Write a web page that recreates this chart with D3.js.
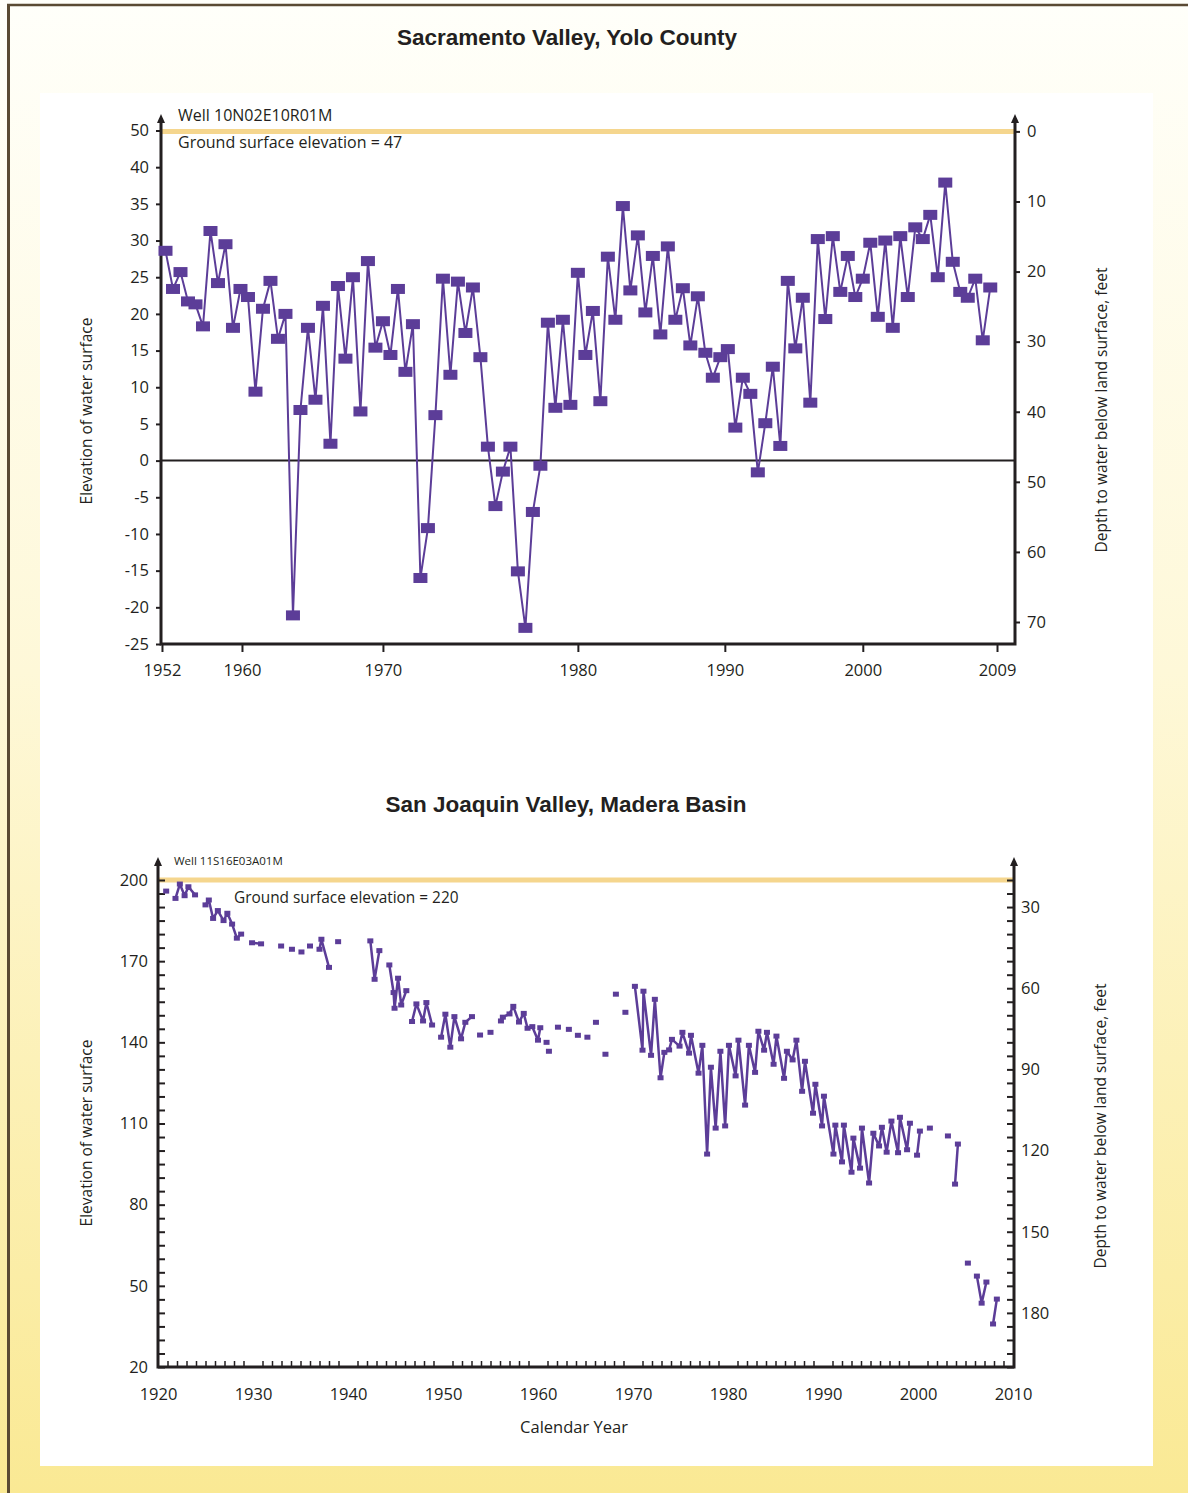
<!DOCTYPE html>
<html><head><meta charset="utf-8">
<script src="https://cdn.jsdelivr.net/npm/d3@7/dist/d3.min.js"></script>
<style>body{margin:0;background:#fff}svg{display:block}</style>
</head><body>
<svg id="c" width="1188" height="1493"></svg>
<script>
// ---------- Data: Sacramento Valley, Yolo County (well 10N02E10R01M) ----------
// measurements in sequence (the original x axis is per-measurement, not linear in time)
const yoloElev = [28.6,23.4,25.7,21.7,21.3,18.3,31.3,24.2,29.5,18.1,
  23.4,22.3,9.4,20.7,24.5,16.6,20.0,-21.1,6.9,18.1,
  8.3,21.1,2.3,23.8,13.9,25.0,6.7,27.2,15.4,19.0,
  14.4,23.4,12.1,18.6,-16.0,-9.2,6.2,24.8,11.7,24.4,
  17.4,23.6,14.1,1.9,-6.2,-1.5,1.9,-15.1,-22.8,-7.0,
  -0.7,18.8,7.2,19.2,7.6,25.6,14.4,20.4,8.1,27.8,
  19.2,34.7,23.2,30.7,20.2,27.9,17.2,29.2,19.2,23.5,
  15.7,22.4,14.7,11.3,14.1,15.2,4.5,11.3,9.1,-1.6,
  5.1,12.8,2.0,24.5,15.3,22.2,7.9,30.2,19.3,30.6,
  23.0,27.9,22.3,24.8,29.7,19.6,30.0,18.1,30.6,22.3,
  31.8,30.2,33.5,25.0,37.9,27.1,23.0,22.2,24.8,16.4,23.6];
const yoloXTickPos = [-0.47,10.2,29.0,55.0,74.6,93.0,110.9];
const yoloXTickLabels = ["1952","1960","1970","1980","1990","2000","2009"];
const yoloLeftTicks = [45,40,35,30,25,20,15,10,5,0,-5,-10,-15,-20,-25];
const yoloLeftLabels = ["50","40","35","30","25","20","15","10","5","0","-5","-10","-15","-20","-25"];
const yoloDepthTicks = [0,10,20,30,40,50,60,70];

// ---------- Data: San Joaquin Valley, Madera Basin (well 11S16E03A01M) ----------
// null entries separate unconnected runs of measurements
const maderaYear = [1920.86,null,
  1921.84,1922.3,1922.8,1923.2,1923.9,null,
  1925.0,1925.35,1925.8,1926.3,1926.9,1927.3,1927.8,1928.3,1928.75,null,
  1929.9,1930.85,null,1932.96,null,1934.1,null,1935.1,null,1936.0,null,
  1937.0,1937.2,1938.0,null,1938.96,null,
  1942.35,1942.8,1943.3,null,
  1944.35,1944.8,1944.9,1945.27,1945.6,1946.14,null,
  1946.74,1947.2,1947.9,1948.25,1948.85,null,
  1949.8,1950.25,1950.77,1951.2,1951.9,1952.35,1953.05,null,
  1953.9,null,1955.0,null,
  1956.1,1956.3,1957.0,1957.4,1958.0,1958.5,1958.9,1959.4,1960.0,1960.24,null,
  1960.9,null,1961.15,null,1962.1,null,1963.25,null,1964.2,null,1965.2,null,
  1966.1,null,1967.1,null,1968.2,null,1969.2,null,
  1970.2,1971.0,1971.1,1971.9,1972.3,1972.9,1973.3,1973.8,1974.1,1974.9,
  1975.2,1975.9,1976.1,1976.9,1977.3,1977.8,1978.2,1978.7,1979.2,1979.7,
  1980.1,1980.8,1981.1,1981.8,1982.2,1982.85,1983.2,1983.8,1984.1,1984.8,
  1985.1,1985.9,1986.2,1986.8,1987.2,1987.8,1988.1,1988.95,1989.2,1989.9,
  1990.1,1991.1,1991.3,1992.0,1992.2,1993.0,1993.2,1993.9,1994.1,1994.85,
  1995.3,1995.9,1996.2,1996.7,1997.2,1997.9,1998.1,1998.85,1999.15,null,
  1999.9,2000.2,null,2001.25,null,2003.15,null,
  2003.9,2004.2,null,2005.25,null,
  2006.2,2006.7,2007.2,null,2007.9,2008.3];
const maderaElev = [195.9,null,
  193.2,198.5,194.2,197.5,194.5,null,
  190.8,192.6,185.8,188.7,185.0,187.7,183.7,178.5,180.0,null,
  176.8,176.4,null,175.6,null,174.4,null,173.4,null,175.6,null,
  174.4,178.1,167.7,null,177.2,null,
  177.5,163.3,173.9,null,
  168.6,158.4,152.6,163.7,153.8,159.1,null,
  147.7,154.2,147.9,154.7,146.4,null,
  141.9,150.4,138.2,149.5,141.3,147.4,149.5,null,
  142.7,null,143.7,null,
  147.9,149.3,150.5,153.3,147.5,150.7,145.2,145.8,140.8,145.4,null,
  140.0,null,136.7,null,145.6,null,144.8,null,142.6,null,141.9,null,
  147.4,null,135.6,null,157.8,null,151.1,null,
  160.7,137.1,158.9,135.2,155.9,126.9,136.3,137.2,141.1,138.6,
  143.7,136.0,142.6,128.6,138.9,98.7,130.8,108.3,136.7,109.1,
  138.9,127.6,140.8,116.8,138.9,128.9,144.1,137.1,143.7,131.9,
  142.3,126.7,136.7,133.5,140.8,121.9,133.0,113.8,124.5,109.1,
  120.1,98.7,109.4,95.8,109.4,92.0,104.6,93.5,108.3,88.0,
  106.4,101.7,108.6,99.4,110.9,99.2,112.3,100.3,110.1,null,
  98.3,107.2,null,108.3,null,105.4,null,
  87.6,102.4,null,58.4,null,
  53.6,43.6,51.4,null,35.9,45.1];
const maderaLeftLabels = [20,50,80,110,140,170,200];
const maderaDepthLabels = [30,60,90,120,150,180];
const maderaDecades = [1920,1930,1940,1950,1960,1970,1980,1990,2000,2010];
const maderaGroundSurface = 220;

// ---------- Drawing ----------
const INK = "#231f20", PURPLE = "#5c3d98", GROUND = "#f5d68e";
const FONT = "'Open Sans', 'Noto Sans', sans-serif";
const TFONT = "'Liberation Sans', Arial, sans-serif";
const svg = d3.select("#c");

const defs = svg.append("defs");
const grad = defs.append("linearGradient").attr("id","bg").attr("x1",0).attr("y1",0).attr("x2",0).attr("y2",1);
grad.append("stop").attr("offset","0%").attr("stop-color","#fffffa");
grad.append("stop").attr("offset","45%").attr("stop-color","#fef8d8");
grad.append("stop").attr("offset","100%").attr("stop-color","#fae994");

svg.append("rect").attr("width",1188).attr("height",1493).attr("fill","url(#bg)");
svg.append("rect").attr("x",40).attr("y",93).attr("width",1113).attr("height",1373).attr("fill","#fff");
svg.append("line").attr("x1",7).attr("x2",1188).attr("y1",5).attr("y2",5).attr("stroke","#5a4a33").attr("stroke-width",2.5);
svg.append("line").attr("x1",8.5).attr("x2",8.5).attr("y1",4).attr("y2",1493).attr("stroke","#5a4a33").attr("stroke-width",3);

function arrowUp(g, x, y){
  g.append("path").attr("d",`M${x-4},${y+9}L${x},${y}L${x+4},${y+9}Z`).attr("fill",INK);
}
function styleAxis(sel, fs){
  sel.select(".domain").remove();
  sel.selectAll(".tick line").attr("stroke",INK).attr("stroke-width",2);
  sel.selectAll(".tick text").attr("font-family",FONT).attr("font-size",fs).attr("fill",INK);
}

// ===== Top chart =====
{
  const L = 161, R = 1015, T = 114, B = 644;
  const x = d3.scaleLinear().domain([-0.6,113.3]).range([L,R]);
  const y = d3.scaleLinear().domain([-25,45]).range([B,130.5]);
  const depth = d3.scaleLinear().domain([0,70]).range([131.4,622]);
  const g = svg.append("g");

  g.append("text").attr("x",567).attr("y",45).attr("text-anchor","middle")
    .attr("font-family",TFONT).attr("font-weight","bold")
    .attr("font-size",22.5).attr("fill",INK).text("Sacramento Valley, Yolo County");

  // ground surface line (depth 0)
  g.append("line").attr("x1",L).attr("x2",R).attr("y1",depth(0)).attr("y2",depth(0))
    .attr("stroke",GROUND).attr("stroke-width",5);
  // zero elevation line
  g.append("line").attr("x1",L).attr("x2",R).attr("y1",y(0)).attr("y2",y(0))
    .attr("stroke",INK).attr("stroke-width",2);

  const ax = g.append("g").attr("transform",`translate(${L},0)`)
    .call(d3.axisLeft(y).tickValues(yoloLeftTicks).tickFormat((d,i)=>yoloLeftLabels[i]).tickSize(5).tickPadding(7));
  styleAxis(ax, 16.5);
  const ar = g.append("g").attr("transform",`translate(${R},0)`)
    .call(d3.axisRight(depth).tickValues(yoloDepthTicks).tickSize(5).tickPadding(7));
  styleAxis(ar, 16.5);
  const ab = g.append("g").attr("transform",`translate(0,${B})`)
    .call(d3.axisBottom(x).tickValues(yoloXTickPos).tickFormat((d,i)=>yoloXTickLabels[i]).tickSize(8).tickPadding(12));
  styleAxis(ab, 16.5);

  g.append("path").attr("d",`M${L},${T+4}V${B}H${R}V${T+4}`).attr("fill","none")
    .attr("stroke",INK).attr("stroke-width",3);
  arrowUp(g, L, T); arrowUp(g, R, T);

  const pts = yoloElev.map((v,i)=>[x(i), y(v)]);
  g.append("path").attr("d", d3.line()(pts)).attr("fill","none").attr("stroke",PURPLE).attr("stroke-width",2);
  g.selectAll("rect.m").data(yoloElev).join("rect").attr("class","m")
    .attr("x",(d,i)=>x(i)-7).attr("y",d=>y(d)-5).attr("width",14).attr("height",10).attr("fill",PURPLE);

  g.append("text").attr("x",178).attr("y",121).attr("font-family",FONT)
    .attr("font-size",16).attr("fill",INK).text("Well 10N02E10R01M");
  g.append("text").attr("x",178).attr("y",148).attr("font-family",FONT)
    .attr("font-size",16).attr("fill",INK).text("Ground surface elevation = 47");

  g.append("text").attr("transform","translate(92,411) rotate(-90)").attr("text-anchor","middle")
    .attr("font-family",FONT).attr("font-size",15.5).attr("fill",INK).text("Elevation of water surface");
  g.append("text").attr("transform","translate(1107,410) rotate(-90)").attr("text-anchor","middle")
    .attr("font-family",FONT).attr("font-size",15.5).attr("fill",INK).text("Depth to water below land surface, feet");
}

// ===== Bottom chart =====
{
  const L = 158, R = 1014, T = 857, B = 1367;
  const x = d3.scaleLinear().domain([1920,2010]).range([L,1013]);
  const y = d3.scaleLinear().domain([20,200]).range([B,880]);
  const depth = d3.scaleLinear().domain([maderaGroundSurface-200, maderaGroundSurface-20]).range([880,B]);
  const g = svg.append("g");

  g.append("text").attr("x",566).attr("y",812).attr("text-anchor","middle")
    .attr("font-family",TFONT).attr("font-weight","bold")
    .attr("font-size",22.5).attr("fill",INK).text("San Joaquin Valley, Madera Basin");

  g.append("line").attr("x1",L).attr("x2",R).attr("y1",y(200)).attr("y2",y(200))
    .attr("stroke",GROUND).attr("stroke-width",5);

  const fine = d3.range(20,201,5);
  const ax = g.append("g").attr("transform",`translate(${L},0)`)
    .call(d3.axisLeft(y).tickValues(fine).tickFormat(d=>maderaLeftLabels.includes(d)?d:"").tickSize(-7).tickPadding(10));
  styleAxis(ax, 16.5);
  const ar = g.append("g").attr("transform",`translate(${R},0)`)
    .call(d3.axisRight(depth).tickValues(fine).tickFormat(d=>maderaDepthLabels.includes(d)?d:"").tickSize(-7).tickPadding(7));
  styleAxis(ar, 16.5);
  const years = d3.range(1921,2010).filter(d=>!maderaDecades.includes(d));
  const am = g.append("g").attr("transform",`translate(0,${B})`)
    .call(d3.axisBottom(x).tickValues(years).tickFormat("").tickSize(-6));
  styleAxis(am, 16);
  am.selectAll(".tick line").attr("stroke-width",1.5);
  const ab = g.append("g").attr("transform",`translate(0,${B})`)
    .call(d3.axisBottom(x).tickValues(maderaDecades).tickFormat(d3.format("d")).tickSize(0).tickPadding(21));
  styleAxis(ab, 16.5);

  g.append("path").attr("d",`M${L},${T+4}V${B}H${R}V${T+4}`).attr("fill","none")
    .attr("stroke",INK).attr("stroke-width",3);
  arrowUp(g, L, T); arrowUp(g, R, T);

  const data = maderaYear.map((yr,i)=>({yr, e: maderaElev[i]}));
  const line = d3.line().defined(d=>d.e!=null).x(d=>x(d.yr)).y(d=>y(d.e));
  g.append("path").attr("d", line(data)).attr("fill","none").attr("stroke",PURPLE)
    .attr("stroke-width",2.5).attr("stroke-linejoin","round");
  g.selectAll("rect.m").data(data.filter(d=>d.e!=null)).join("rect").attr("class","m")
    .attr("x",d=>x(d.yr)-3).attr("y",d=>y(d.e)-2.5).attr("width",6).attr("height",5).attr("fill",PURPLE);

  g.append("text").attr("x",174).attr("y",865).attr("font-family",FONT)
    .attr("font-size",11.5).attr("fill",INK).text("Well 11S16E03A01M");
  g.append("text").attr("x",234).attr("y",903).attr("font-family",FONT)
    .attr("font-size",15.4).attr("fill",INK).text("Ground surface elevation = " + maderaGroundSurface);

  g.append("text").attr("x",574).attr("y",1433).attr("text-anchor","middle")
    .attr("font-family",FONT).attr("font-size",16.5).attr("fill",INK).text("Calendar Year");
  g.append("text").attr("transform","translate(92,1133) rotate(-90)").attr("text-anchor","middle")
    .attr("font-family",FONT).attr("font-size",15.5).attr("fill",INK).text("Elevation of water surface");
  g.append("text").attr("transform","translate(1106,1126) rotate(-90)").attr("text-anchor","middle")
    .attr("font-family",FONT).attr("font-size",15.5).attr("fill",INK).text("Depth to water below land surface, feet");
}
</script>
</body></html>
